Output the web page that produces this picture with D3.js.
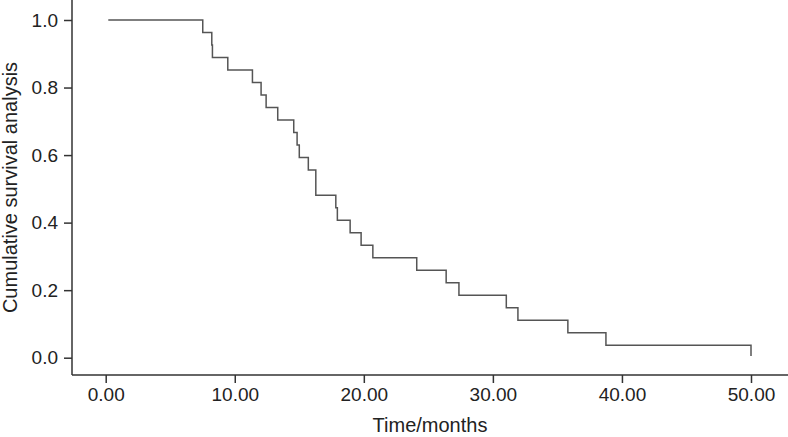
<!DOCTYPE html>
<html>
<head>
<meta charset="utf-8">
<script src="https://cdn.jsdelivr.net/npm/d3@7"></script>
<style>
  body { margin: 0; background: #fff; }
  svg { display: block; font-family: "Liberation Sans", Arial, sans-serif; }
</style>
</head>
<body>
<div class="chart"></div>
<script>
// event times (months) and survival after each step
var times = [0.2, 7.52, 8.22, 8.27, 9.46, 11.37, 12.04, 12.43, 13.33, 14.57, 14.83, 15.0,
             15.7, 16.28, 17.83, 17.95, 18.94, 19.79, 20.7, 24.1, 26.38, 27.37, 31.04,
             31.94, 35.81, 38.76, 50.0];
var survival = [1.0, 0.963, 0.926, 0.889, 0.852, 0.815, 0.778, 0.741, 0.704, 0.667, 0.630, 0.593,
                0.556, 0.481, 0.444, 0.407, 0.370, 0.333, 0.296, 0.259, 0.222, 0.185, 0.148,
                0.111, 0.074, 0.037, 0.005];
var xTicks = [0, 10, 20, 30, 40, 50];
var yTicks = [0, 0.2, 0.4, 0.6, 0.8, 1.0];

var w = 788;
var h = 437;
var left = 72, bottom = 375;

var svg = d3.select(".chart")
  .append("svg")
  .attr("width", w)
  .attr("height", h);

var x = d3.scaleLinear().domain([0, 50]).range([105.7, 751]);
var y = d3.scaleLinear().domain([0, 1]).range([357.7, 20]);

var data = times.map(function(t, i) { return {t: t, s: survival[i]}; });

// curve
var line = d3.line()
  .x(function(d) { return x(d.t); })
  .y(function(d) { return y(d.s); })
  .curve(d3.curveStepAfter);

svg.append("path")
  .datum(data)
  .attr("d", line)
  .attr("fill", "none")
  .attr("stroke", "#555")
  .attr("stroke-width", 1.5);

// axes
var xAxis = svg.append("g")
  .attr("transform", "translate(0," + bottom + ")")
  .call(d3.axisBottom(x).tickValues(xTicks).tickFormat(d3.format(".2f")).tickSize(8).tickPadding(5));
xAxis.select(".domain").attr("d", "M" + left + ",0H" + w);

var yAxis = svg.append("g")
  .attr("transform", "translate(" + left + ",0)")
  .call(d3.axisLeft(y).tickValues(yTicks).tickFormat(d3.format(".1f")).tickSize(8).tickPadding(6));
yAxis.select(".domain").attr("d", "M0,0V" + bottom);

svg.selectAll(".tick text")
  .attr("font-family", "Liberation Sans, Arial, sans-serif")
  .attr("font-size", 19)
  .attr("fill", "#222");
svg.selectAll(".domain, .tick line")
  .attr("stroke", "#333")
  .attr("stroke-width", 1.5);

// titles
svg.append("text")
  .attr("x", (left + w) / 2)
  .attr("y", 432)
  .attr("text-anchor", "middle")
  .attr("font-size", 20)
  .attr("fill", "#222")
  .text("Time/months");

svg.append("text")
  .attr("transform", "translate(17," + (bottom / 2) + ") rotate(-90)")
  .attr("text-anchor", "middle")
  .attr("font-size", 20)
  .attr("fill", "#222")
  .text("Cumulative survival analysis");
</script>
</body>
</html>
